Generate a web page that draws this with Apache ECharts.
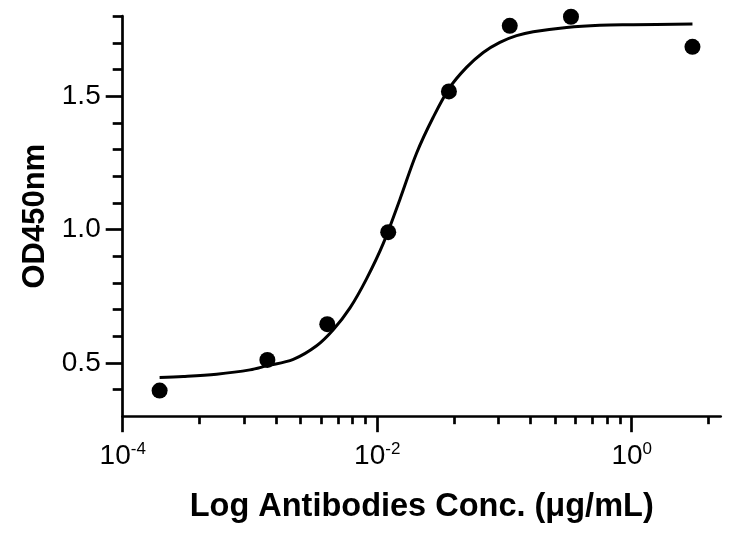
<!DOCTYPE html>
<html><head><meta charset="utf-8">
<script src="https://cdn.jsdelivr.net/npm/echarts@6/dist/echarts.min.js"></script>
<style>html,body{margin:0;padding:0;background:#fff}#c{width:744px;height:533px}</style>
</head><body><div id="c"></div>
<script>
const concentrations = [0.000195, 0.00137, 0.00405, 0.0122, 0.0366, 0.110, 0.333, 3.0];
const odValues = [0.396, 0.511, 0.645, 0.990, 1.518, 1.764, 1.798, 1.685];
const curveConc = [0.000195, 0.000299, 0.000547, 0.00100, 0.00135, 0.00219, 0.00334, 0.00451, 0.00611, 0.00826, 0.01114, 0.01507, 0.02037, 0.02754, 0.03722, 0.0503, 0.0681, 0.0920, 0.1245, 0.1683, 0.3076, 0.561, 1.026, 3.0];
const curveOD = [0.4447, 0.4485, 0.4575, 0.4737, 0.4887, 0.5130, 0.564, 0.624, 0.706, 0.816, 0.947, 1.113, 1.286, 1.421, 1.533, 1.608, 1.664, 1.702, 1.727, 1.742, 1.758, 1.766, 1.768, 1.771];
const xMajorTicks = [1e-4, 1e-2, 1];
const xMinorTicks = [4e-4, 9e-4, 1.6e-3, 2.5e-3, 3.6e-3, 4.9e-3, 6.4e-3, 8.1e-3, 0.04, 0.09, 0.16, 0.25, 0.36, 0.49, 0.64, 0.81, 4];
const yMajorTicks = [0.5, 1.0, 1.5];
const yMinorTicks = [0.4, 0.6, 0.7, 0.8, 0.9, 1.1, 1.2, 1.3, 1.4, 1.6, 1.7, 1.8];
const xTitle = 'Log Antibodies Conc. (μg/mL)';
const yTitle = 'OD450nm';

const FONT = "'Liberation Sans', Arial, Helvetica, sans-serif";
const BLACK = '#000';
const chart = echarts.init(document.getElementById('c'), null, {renderer: 'canvas'});
const curveData = curveConc.map((c, i) => [c, curveOD[i]]);
const pointData = concentrations.map((c, i) => [c, odValues[i]]);

chart.setOption({
  animation: false,
  backgroundColor: '#fff',
  grid: {left: 122.7, right: 23.3, top: 16.2, bottom: 116.8, containLabel: false},
  xAxis: [{
    type: 'log', logBase: 10, min: 1e-4, max: 5, position: 'bottom',
    axisLine: {show: true, lineStyle: {color: BLACK, width: 2.7}},
    axisTick: {show: true, customValues: xMajorTicks, length: 16, lineStyle: {color: BLACK, width: 2.7}},
    minorTick: {show: false},
    splitLine: {show: false},
    axisLabel: {
      customValues: xMajorTicks, margin: 25,
      formatter: v => '{b|10}{s|' + Math.round(Math.log10(v)) + '}',
      rich: {
        b: {fontSize: 28, fontFamily: FONT, color: BLACK},
        s: {fontSize: 17, fontFamily: FONT, color: BLACK, padding: [0, 0, 14, 0]}
      }
    },
    name: xTitle, nameLocation: 'middle', nameGap: 74,
    nameTextStyle: {fontSize: 32.5, fontWeight: 'bold', fontFamily: FONT, color: BLACK}
  }, {
    type: 'log', logBase: 10, min: 1e-4, max: 5, position: 'bottom',
    axisLine: {show: false},
    axisTick: {show: true, customValues: xMinorTicks, length: 8, lineStyle: {color: BLACK, width: 2.7}},
    axisLabel: {show: false},
    splitLine: {show: false}
  }],
  yAxis: [{
    type: 'value', min: 0.3, max: 1.8, position: 'left',
    axisLine: {show: true, lineStyle: {color: BLACK, width: 2.7}},
    axisTick: {show: true, customValues: yMajorTicks, length: 17, lineStyle: {color: BLACK, width: 2.7}},
    splitLine: {show: false},
    axisLabel: {customValues: yMajorTicks, margin: 22, fontSize: 28, fontFamily: FONT, color: BLACK,
      formatter: v => v.toFixed(1)},
    name: yTitle, nameLocation: 'middle', nameGap: 71,
    nameTextStyle: {fontSize: 31, fontWeight: 'bold', fontFamily: FONT, color: BLACK}
  }, {
    type: 'value', min: 0.3, max: 1.8, position: 'left',
    axisLine: {show: false},
    axisTick: {show: true, customValues: yMinorTicks, length: 10, lineStyle: {color: BLACK, width: 2.7}},
    axisLabel: {show: false},
    splitLine: {show: false}
  }],
  series: [{
    type: 'line', xAxisIndex: 0, yAxisIndex: 0, data: curveData,
    showSymbol: false, smooth: 0.35, lineStyle: {color: BLACK, width: 3}, silent: true
  }, {
    type: 'scatter', xAxisIndex: 0, yAxisIndex: 0, data: pointData,
    symbol: 'circle', symbolSize: 16, itemStyle: {color: BLACK, opacity: 1}
  }]
});
</script>
</body></html>
